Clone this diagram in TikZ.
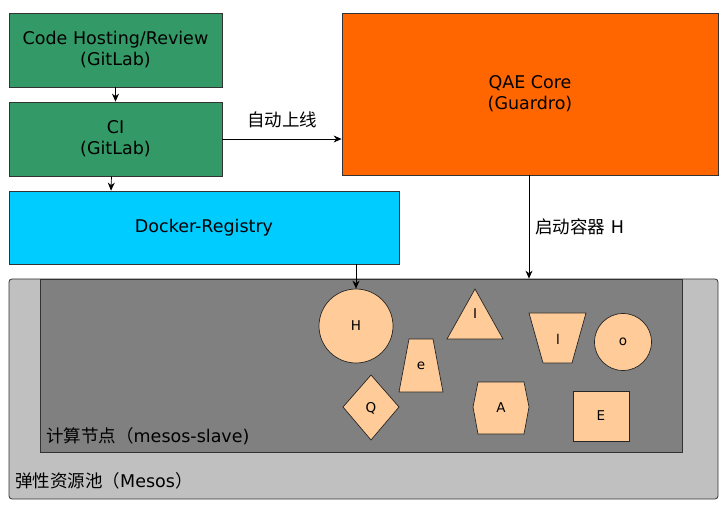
\documentclass[tikz,border=0pt]{standalone}
\usepackage{fontspec}
\setmainfont{DejaVu Sans}
\newfontfamily\cjk{Noto Sans CJK SC}
\usetikzlibrary{arrows.meta,calc}
\definecolor{cgreen}{HTML}{339966}
\definecolor{corange}{HTML}{FF6600}
\definecolor{ccyan}{HTML}{00CCFF}
\definecolor{cdark}{HTML}{808080}
\definecolor{clight}{HTML}{C0C0C0}
\definecolor{cpeach}{HTML}{FFCC99}
\newcommand{\zh}[1]{{\cjk\fontsize{17.5}{21}\selectfont #1}}
\tikzset{
  box/.style={draw=black!80, line width=0.8pt, inner sep=0pt, align=center, font=\fontsize{17.5}{21}\selectfont},
  shp/.style={draw=black!85, fill=cpeach, line width=0.7pt},
  shl/.style={font=\fontsize{13.5}{15}\selectfont, inner sep=0pt},
  arr/.style={-{Stealth[length=8pt,width=7pt]}, line width=0.7pt},
  lbl/.style={font=\fontsize{17.5}{21}\selectfont, inner sep=0pt}
}
\begin{document}
\begin{tikzpicture}[x=1pt,y=-1pt]
\useasboundingbox (0,0) rectangle (725,510);
% containers
\node[box, fill=clight, rounded corners=3pt, minimum width=709pt, minimum height=220pt] (mesos) at (363.5,389) {};
\node[box, fill=cdark, minimum width=642pt, minimum height=173pt] (slave) at (361,365.5) {};
\node[lbl, anchor=west] (slavelbl) at (46,436) {\zh{计算节点（}mesos-slave)};
\node[lbl, anchor=west] (mesoslbl) at (15,481) {\zh{弹性资源池（}Mesos\zh{）}};
% boxes
\node[box, fill=cgreen, minimum width=213pt, minimum height=74pt] (code) at (115.5,50) {Code Hosting/Review\\(GitLab)};
\node[box, fill=cgreen, minimum width=213pt, minimum height=74pt] (ci) at (115.5,139) {CI\\(GitLab)};
\node[box, fill=ccyan, minimum width=390pt, minimum height=73pt] (docker) at (204,227.5) {Docker-Registry};
\node[box, fill=corange, minimum width=376pt, minimum height=162pt] (qae) at (530,94) {QAE Core\\(Guardro)};
% shapes
\node[shp, circle, minimum size=74pt, inner sep=0pt, shl] (H) at (356,326) {H};
\draw[shp] (475,289) -- (503,339) -- (447,339) -- cycle;
\node[shl] (I) at (475,314) {I};
\draw[shp] (529,313) -- (586,313) -- (572,363) -- (543,363) -- cycle;
\node[shl] (l) at (558,339) {l};
\node[shp, circle, minimum size=57pt, inner sep=0pt, shl] (o) at (623,342) {o};
\draw[shp] (409,339) -- (433,339) -- (443,392) -- (399,392) -- cycle;
\node[shl] (e) at (421,366) {e};
\draw[shp] (371,375) -- (399,407) -- (371,440) -- (343,407) -- cycle;
\node[shl] (Q) at (371,408) {Q};
\draw[shp] (473,407) -- (478,382) -- (524,382) -- (529,407) -- (524,434) -- (478,434) -- cycle;
\node[shl] (A) at (501,408) {A};
\draw[shp] (573,391) rectangle (629,441);
\node[shl] (E) at (601,416) {E};
% connectors
\draw[arr] (code.south) -- (ci.north);
\draw[arr] ($(ci.south)+(-4,0)$) -- ($(docker.north)+(-93,0)$);
\draw[arr] (ci.east) -- (qae.west |- ci.east) node[lbl, midway, above=11pt] (auto) {\zh{自动上线}};
\draw[arr] (docker.south -| H.north) -- (H.north);
\draw[arr] ($(qae.south)+(-1,0)$) -- ($(mesos.north)+(165.5,0)$) node[lbl, pos=0.5, right=6pt] (start) {\zh{启动容器} H};
\end{tikzpicture}
\end{document}
